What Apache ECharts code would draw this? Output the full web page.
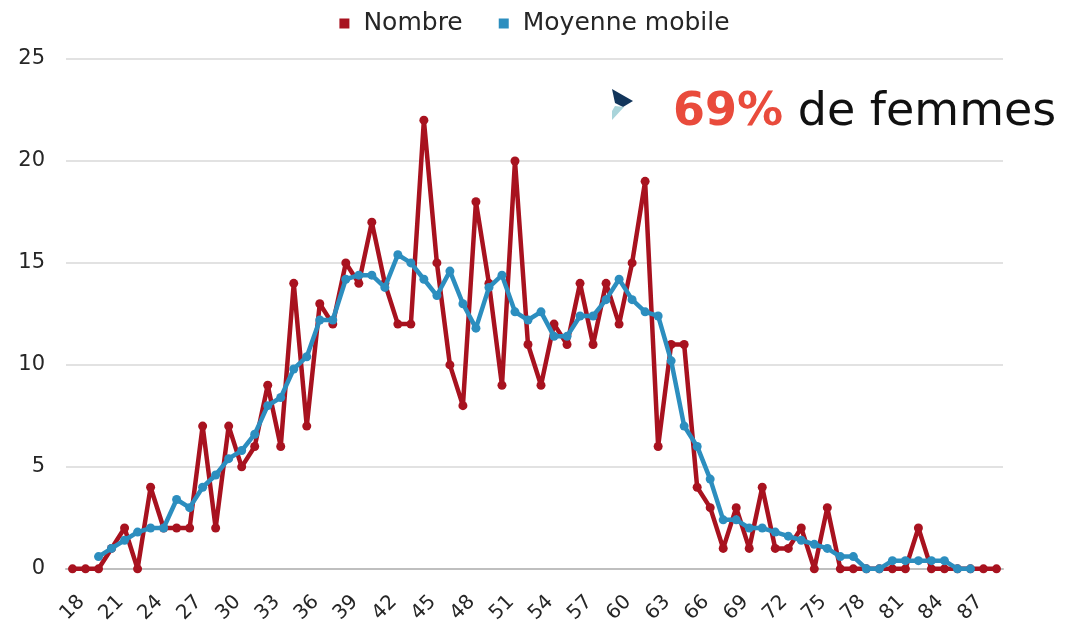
<!DOCTYPE html>
<html>
<head>
<meta charset="utf-8">
<script src="https://cdn.jsdelivr.net/npm/echarts@6/dist/echarts.min.js"></script>
<style>
html,body{margin:0;padding:0;background:#fff;}
#chart{width:1069px;height:626px;}
</style>
</head>
<body>
<div id="chart"></div>
<script>
var ages = [];
for (var a = 18; a <= 89; a++) ages.push(String(a));

var nombre = [0,0,0,1,2,0,4,2,2,2, 7,2,7,5,6,9,6,14,7,13, 12,15,14,17,14,12,12,22,15,10, 8,18,14,9,20,11,9,12,11,14, 11,14,12,15,19,6,11,11,4,3, 1,3,1,4,1,1,2,0,3,0, 0,0,0,0,0,2,0,0,0,0, 0,0];

var moyenne = [null,null,0.6,1.0,1.4,1.8,2.0,2.0,3.4,3.0, 4.0,4.6,5.4,5.8,6.6,8.0,8.4,9.8,10.4,12.2, 12.2,14.2,14.4,14.4,13.8,15.4,15.0,14.2,13.4,14.6, 13.0,11.8,13.8,14.4,12.6,12.2,12.6,11.4,11.4,12.4, 12.4,13.2,14.2,13.2,12.6,12.4,10.2,7.0,6.0,4.4, 2.4,2.4,2.0,2.0,1.8,1.6,1.4,1.2,1.0,0.6, 0.6,0,0,0.4,0.4,0.4,0.4,0.4,0,0, null,null];

var seriesNames = ['Nombre', 'Moyenne mobile'];
var yTicks = {min: 0, max: 25, interval: 5};

var FONT = 'DejaVu Sans';
var chart = echarts.init(document.getElementById('chart'));
chart.setOption({
  animation: false,
  textStyle: {fontFamily: FONT},
  legend: {
    top: 6,
    left: 'center',
    itemGap: 36,
    itemWidth: 10,
    itemHeight: 10,
    icon: 'rect',
    formatter: function (name) { return '{t|' + name + '}'; },
    textStyle: {
      fontFamily: FONT, fontSize: 25, color: '#262626',
      rich: {t: {fontFamily: FONT, fontSize: 25, color: '#262626', padding: [0, 0, 0, 9]}}
    },
    data: seriesNames
  },
  grid: {left: 66, right: 66, top: 59, bottom: 57, containLabel: false},
  xAxis: {
    type: 'category',
    data: ages,
    boundaryGap: true,
    axisLine: {show: true, lineStyle: {color: '#bfbfbf', width: 2}},
    axisTick: {show: false},
    axisLabel: {
      interval: 2,
      rotate: 45,
      align: 'center',
      verticalAlign: 'middle',
      margin: 39,
      fontFamily: FONT,
      fontSize: 20,
      color: '#262626'
    },
    splitLine: {show: false}
  },
  yAxis: {
    type: 'value',
    min: yTicks.min,
    max: yTicks.max,
    interval: yTicks.interval,
    axisLine: {show: false},
    axisTick: {show: false},
    axisLabel: {margin: 21, fontFamily: FONT, fontSize: 21, color: '#262626'},
    splitLine: {lineStyle: {color: '#d9d9d9', width: 1.5}}
  },
  series: [
    {
      name: seriesNames[0],
      type: 'line',
      data: nombre,
      color: '#A8121F',
      symbol: 'circle',
      symbolSize: 9,
      showAllSymbol: true,
      lineStyle: {width: 4.5, color: '#A8121F'},
      itemStyle: {color: '#A8121F'},
      z: 2
    },
    {
      name: seriesNames[1],
      type: 'line',
      data: moyenne,
      color: '#2C8EBF',
      symbol: 'circle',
      symbolSize: 9,
      showAllSymbol: true,
      lineStyle: {width: 4.5, color: '#2C8EBF'},
      itemStyle: {color: '#2C8EBF'},
      z: 3
    }
  ],
  graphic: [
    {
      type: 'polygon',
      shape: {points: [[612, 89], [633, 101], [623, 107], [615, 103]]},
      style: {fill: '#12355B'}
    },
    {
      type: 'polygon',
      shape: {points: [[615, 106], [624, 107], [612, 120], [612, 111]]},
      style: {fill: '#A9D4DA'}
    },
    {
      type: 'text',
      left: 673,
      top: 90,
      style: {
        text: '{a|69%}{b| de femmes}',
        rich: {
          a: {fontFamily: FONT, fontSize: 46, fontWeight: 'bold', fill: '#E94B3C'},
          b: {fontFamily: FONT, fontSize: 46, fill: '#111111'}
        }
      }
    }
  ]
});
</script>
</body>
</html>
